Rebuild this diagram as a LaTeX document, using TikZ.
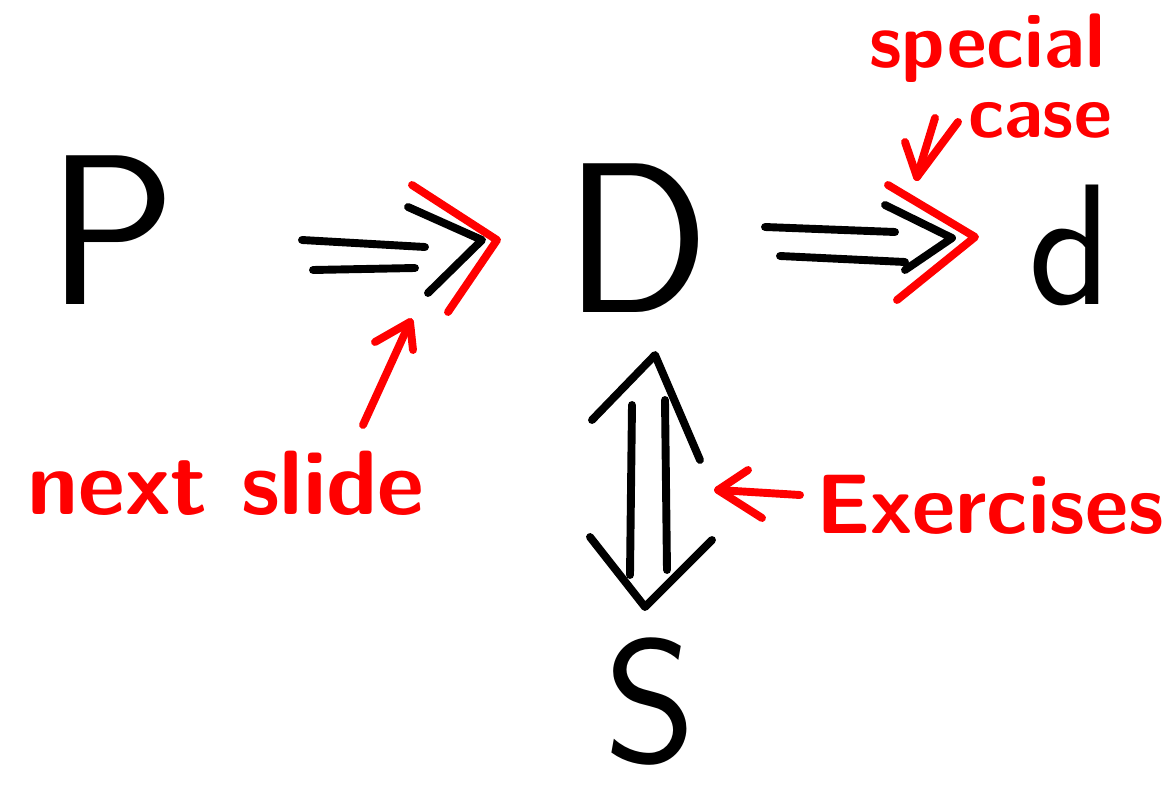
\documentclass[tikz,border=0pt]{standalone}
\usetikzlibrary{calc}
\begin{document}
\begin{tikzpicture}[x=0.02cm,y=-0.02cm,
  ink/.style={line width=4.5pt,line cap=round,line join=round,black},
  redink/.style={line width=4.5pt,line cap=round,line join=round,red},
  letter/.style={inner sep=0pt,font=\sffamily},
  note/.style={inner sep=0pt,text=red,font=\sffamily\bfseries}]
\useasboundingbox (0,0) rectangle (1171,801);
% main letters
\node[letter,font=\sffamily\fontsize{122}{122}\selectfont] (P) at (112,230) {P};
\node[letter,font=\sffamily\fontsize{122}{122}\selectfont] (D) at (637,238) {D};
\node[letter,font=\sffamily\fontsize{98}{98}\selectfont] (d) at (1070,245) {d};
\node[letter,font=\sffamily\fontsize{100}{100}\selectfont] (S) at (650,702) {S};
% P => D
\coordinate (a1) at (302,240); \coordinate (a2) at (425,247);
\coordinate (a3) at (313,270); \coordinate (a4) at (415,268);
\draw[ink] (a1) -- (a2);
\draw[ink] (a3) -- (a4);
\draw[ink] (408,207) -- (482,240) -- (428,293);
\draw[redink] (412,185) -- (497,240) -- (448,312);
% D => d
\coordinate (b1) at (765,227); \coordinate (b2) at (895,232);
\coordinate (b3) at (780,256); \coordinate (b4) at (905,262);
\draw[ink] (b1) -- (b2);
\draw[ink] (b3) -- (b4);
\draw[ink] (885,205) -- (952,238) -- (905,270);
\draw[redink] (888,185) -- (975,237) -- (897,300);
% D <=> S
\coordinate (c1) at (632,405); \coordinate (c2) at (630,575);
\coordinate (c3) at (665,400); \coordinate (c4) at (667,570);
\draw[ink] (c1) -- (c2);
\draw[ink] (c3) -- (c4);
\draw[ink] (592,420) -- (655,355) -- (700,460);
\draw[ink] (590,537) -- (645,607) -- (712,540);
% notes
\node[note,font=\sffamily\bfseries\fontsize{52}{52}\selectfont] (ns) at (226,483) {next slide};
\node[note,font=\sffamily\bfseries\fontsize{44}{44}\selectfont] (sp) at (987,48) {special};
\node[note,font=\sffamily\bfseries\fontsize{42}{42}\selectfont] (cs) at (1040,120) {case};
\node[note,font=\sffamily\bfseries\fontsize{48}{48}\selectfont] (ex) at (990,505) {Exercises};
% red arrows
\coordinate (nsA) at (363,425); \coordinate (nsB) at (410,322);
\draw[redink] (nsA) -- (nsB);
\draw[redink] (375,342) -- (nsB) -- (413,350);
\coordinate (spA) at (935,118); \coordinate (spB) at (917,177);
\draw[redink] (spA) -- (spB);
\draw[redink] (905,142) -- (spB) -- (958,122);
\coordinate (exA) at (800,495); \coordinate (exB) at (718,490);
\draw[redink] (exA) -- (exB);
\draw[redink] (748,470) -- (exB) -- (762,518);
\end{tikzpicture}
\end{document}
